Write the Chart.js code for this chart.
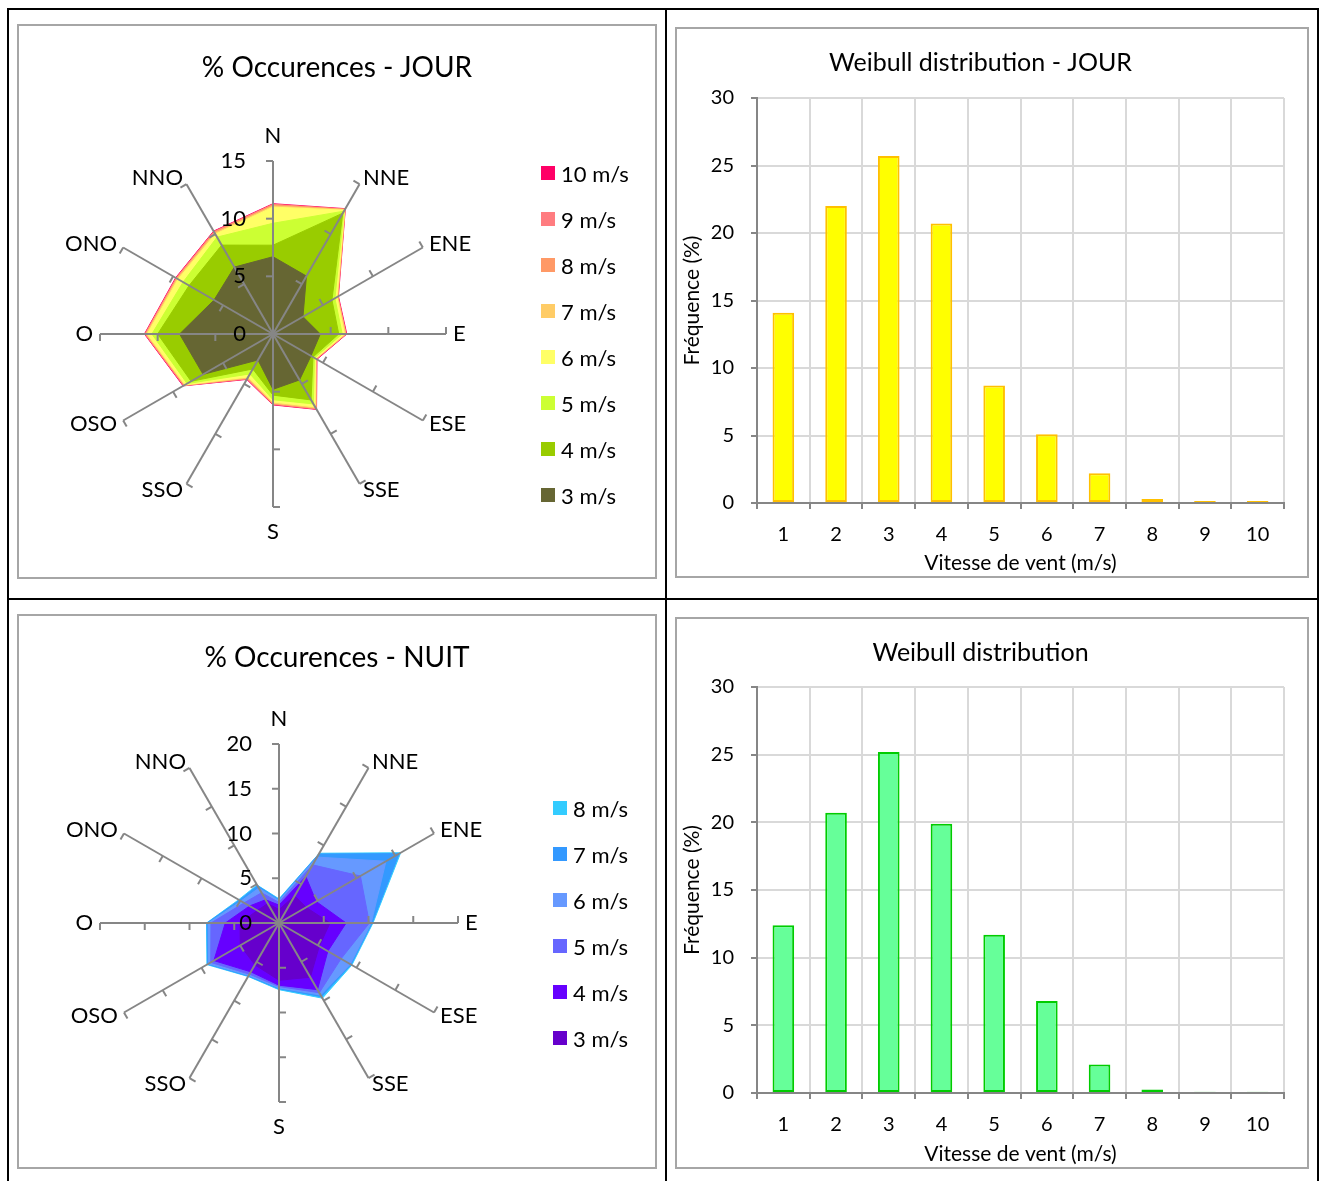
<!DOCTYPE html>
<html lang="fr">
<head>
<meta charset="utf-8">
<title>Occurences et distribution de Weibull</title>
<script src="https://cdn.jsdelivr.net/npm/chart.js@4.4.1/dist/chart.umd.min.js"></script>
<style>
  body { margin: 0; background: #fff; font-family: Lato, sans-serif; }
  .rule { position: absolute; background: #000; }
  .panel { position: absolute; border: 2px solid #a6a6a6; box-sizing: border-box; background: #fff; }
  .panel canvas { position: absolute; left: 0; top: 0; }
  .panel-title { position: absolute; left: 0; right: 0; text-align: center; font-size: 28px; line-height: 32px; color: #000; }
  .legend { position: absolute; margin: 0; padding: 0; list-style: none; font-size: 22px; color: #000; }
  .legend li { display: flex; align-items: center; height: 46px; white-space: nowrap; }
  .legend span { display: inline-block; width: 14px; height: 14px; margin-right: 6px; }
</style>
</head>
<body>
<div class="rule" style="left:7px;top:8px;width:1312px;height:2px"></div>
<div class="rule" style="left:7px;top:8px;width:2px;height:1176px"></div>
<div class="rule" style="left:1317px;top:8px;width:2px;height:1176px"></div>
<div class="rule" style="left:665px;top:8px;width:2px;height:1176px"></div>
<div class="rule" style="left:7px;top:598px;width:1312px;height:2px"></div>

<div class="panel" style="left:17px;top:24px;width:640px;height:555px">
  <canvas id="roseJour" width="636" height="551"></canvas>
  <div class="panel-title" style="top:24px">% Occurences - JOUR</div>
  <ul class="legend" id="legendJour" style="left:522px;top:124px"></ul>
</div>
<div class="panel" style="left:675px;top:27px;width:634px;height:551px">
  <canvas id="weibullJour" width="630" height="547"></canvas>
</div>
<div class="panel" style="left:17px;top:614px;width:640px;height:555px">
  <canvas id="roseNuit" width="636" height="551"></canvas>
  <div class="panel-title" style="top:24px">% Occurences - NUIT</div>
  <ul class="legend" id="legendNuit" style="left:534px;top:169px"></ul>
</div>
<div class="panel" style="left:675px;top:617px;width:634px;height:552px">
  <canvas id="weibullNuit" width="630" height="548"></canvas>
</div>

<script>
// directions, clockwise from north
const directions = ['N', 'NNE', 'ENE', 'E', 'ESE', 'SSE', 'S', 'SSO', 'OSO', 'O', 'ONO', 'NNO'];

// % occurences by direction, day (cumulative per wind speed class)
const jourLabels = ['3 m/s', '4 m/s', '5 m/s', '6 m/s', '7 m/s', '8 m/s', '9 m/s', '10 m/s'];
const jour3 = [6.7, 5.8, 3.0, 4.1, 3.8, 4.6, 4.8, 2.6, 7.0, 8.1, 5.9, 6.7];
const jour4 = [7.7, 12.1, 5.9, 5.7, 4.0, 6.6, 5.3, 3.5, 8.2, 10.0, 8.4, 8.9];
const jour5 = [9.6, 12.3, 6.2, 6.0, 4.15, 7.0, 5.7, 4.0, 8.6, 10.5, 9.0, 9.7];
const jour6 = [11.0, 12.4, 6.4, 6.2, 4.25, 7.3, 5.9, 4.3, 8.8, 10.9, 9.5, 10.0];
const jour7 = [11.1, 12.45, 6.45, 6.3, 4.3, 7.4, 6.0, 4.4, 8.85, 11.0, 9.6, 10.1];
const jour8 = [11.2, 12.5, 6.5, 6.3, 4.3, 7.45, 6.05, 4.45, 8.9, 11.05, 9.65, 10.2];
const jour9 = [11.25, 12.5, 6.5, 6.35, 4.35, 7.5, 6.1, 4.5, 8.95, 11.1, 9.7, 10.25];
const jour10 = [11.3, 12.55, 6.55, 6.4, 4.4, 7.55, 6.15, 4.55, 9.0, 11.15, 9.75, 10.3];

// % occurences by direction, night
const nuitLabels = ['3 m/s', '4 m/s', '5 m/s', '6 m/s', '7 m/s', '8 m/s'];
const nuit3 = [1.5, 3.5, 3.5, 5.7, 5.2, 7.0, 6.4, 5.4, 5.0, 4.35, 2.8, 2.5];
const nuit4 = [2.0, 6.0, 4.8, 7.5, 6.3, 8.6, 6.95, 6.3, 8.4, 6.0, 3.8, 3.0];
const nuit5 = [2.3, 7.5, 10.5, 10.1, 8.0, 9.0, 7.1, 6.6, 8.8, 7.6, 4.5, 3.9];
const nuit6 = [2.5, 8.5, 13.8, 10.3, 9.2, 9.3, 7.25, 6.75, 9.1, 7.9, 4.9, 4.5];
const nuit7 = [2.6, 8.9, 15.5, 10.4, 9.3, 9.5, 7.35, 6.85, 9.2, 8.05, 5.1, 4.8];
const nuit8 = [2.7, 9.0, 15.7, 10.5, 9.4, 9.7, 7.45, 6.9, 9.3, 8.1, 5.2, 4.9];

// Weibull distribution, frequency (%) per wind speed
const speedBins = ['1', '2', '3', '4', '5', '6', '7', '8', '9', '10'];
const weibullJourValues = [14.1, 22.0, 25.7, 20.7, 8.7, 5.1, 2.2, 0.3, 0.15, 0.15];
const weibullNuitValues = [12.4, 20.7, 25.2, 19.9, 11.7, 6.8, 2.1, 0.25, 0.1, 0.1];

const axisGrey = '#868686';
const gridGrey = '#d9d9d9';

Chart.defaults.font.family = 'Lato, sans-serif';
Chart.defaults.color = '#000';

// spokes ticks, value labels along N, direction names
const roseAxes = {
    id: 'roseAxes',
    afterDraw(chart) {
        const s = chart.scales.r;
        const ctx = chart.ctx;
        ctx.save();
        ctx.strokeStyle = axisGrey;
        ctx.lineWidth = 2;
        s.ticks.forEach((t) => {
            if (t.value === 0) return;
            const d = s.getDistanceFromCenterForValue(t.value);
            chart.data.labels.forEach((_, i) => {
                const p = s.getPointPosition(i, d);
                ctx.beginPath();
                ctx.moveTo(p.x, p.y);
                ctx.lineTo(p.x + 7 * Math.sin(p.angle), p.y - 7 * Math.cos(p.angle));
                ctx.stroke();
            });
        });

        ctx.fillStyle = '#000';
        ctx.font = '22px Lato, sans-serif';
        ctx.textBaseline = 'middle';
        ctx.textAlign = 'right';
        s.ticks.forEach((t) => {
            ctx.fillText(t.label, s.xCenter - 27, s.yCenter - s.getDistanceFromCenterForValue(t.value));
        });

        chart.data.labels.forEach((name, i) => {
            const probe = s.getPointPosition(i, s.drawingArea);
            const dx = probe.x - s.xCenter;
            const onVertical = Math.abs(dx) < 1;
            const p = s.getPointPosition(i, s.drawingArea + (onVertical ? 25 : 7));
            ctx.textAlign = onVertical ? 'center' : dx > 0 ? 'left' : 'right';
            ctx.fillText(name, p.x, p.y);
        });
        ctx.restore();
    },
};

const fillLegend = (listId, chart) => {
    const list = document.getElementById(listId);
    [...chart.data.datasets].reverse().forEach((ds) => {
        const li = document.createElement('li');
        const box = document.createElement('span');
        box.style.background = ds.backgroundColor;
        li.appendChild(box);
        li.appendChild(document.createTextNode(ds.label));
        list.appendChild(li);
    });
};

const makeRose = (canvasId, legendId, labels, series, colors, max, padding) => {
    const chart = new Chart(document.getElementById(canvasId), {
        type: 'radar',
        data: {
            labels: directions,
            datasets: series.map((data, i) => ({
                label: labels[i],
                data,
                backgroundColor: colors[i],
                borderColor: colors[i],
                borderWidth: 1,
                fill: 'origin',
                pointRadius: 0,
                tension: 0,
            })),
        },
        options: {
            responsive: false,
            animation: false,
            events: [],
            layout: { padding },
            plugins: {
                legend: { display: false },
                tooltip: { enabled: false },
            },
            scales: {
                r: {
                    min: 0,
                    max,
                    ticks: { display: false, stepSize: 5 },
                    grid: { display: false, z: 1 },
                    angleLines: { color: axisGrey, lineWidth: 2 },
                    pointLabels: { display: false },
                },
            },
        },
        plugins: [roseAxes],
    });
    fillLegend(legendId, chart);
};

const makeWeibull = (canvasId, title, values, fill, border, titleBottom, xHeight) => {
    new Chart(document.getElementById(canvasId), {
        type: 'bar',
        data: {
            labels: speedBins,
            datasets: [
                {
                    data: values,
                    backgroundColor: fill,
                    borderColor: border,
                    borderWidth: 2,
                    borderSkipped: false,
                    barPercentage: 0.41,
                    categoryPercentage: 1,
                },
            ],
        },
        options: {
            responsive: false,
            animation: false,
            events: [],
            layout: { padding: { left: 0, right: 23, top: 0, bottom: 0 } },
            plugins: {
                legend: { display: false },
                tooltip: { enabled: false },
                title: {
                    display: true,
                    text: title,
                    font: { size: 25, weight: 'normal' },
                    padding: { top: 19, bottom: titleBottom },
                },
            },
            scales: {
                x: {
                    grid: { color: gridGrey, lineWidth: 2, tickColor: axisGrey, tickLength: 6 },
                    border: { color: axisGrey, width: 2 },
                    ticks: { font: { size: 20 }, padding: 14 },
                    title: {
                        display: true,
                        text: 'Vitesse de vent (m/s)',
                        font: { size: 21 },
                        padding: { top: 4, bottom: 0 },
                    },
                    afterFit: (scale) => { scale.height = xHeight; },
                },
                y: {
                    min: 0,
                    max: 30,
                    ticks: { stepSize: 5, font: { size: 20 }, padding: 17 },
                    grid: { color: gridGrey, lineWidth: 2, tickColor: axisGrey, tickLength: 6 },
                    border: { color: axisGrey, width: 2 },
                    title: { display: true, text: 'Fréquence (%)', font: { size: 21 }, padding: { top: 3, bottom: 4 } },
                    afterFit: (scale) => { scale.width = 80; },
                },
            },
        },
    });
};

makeRose(
    'roseJour', 'legendJour', jourLabels,
    [jour3, jour4, jour5, jour6, jour7, jour8, jour9, jour10],
    ['#666633', '#99cc00', '#ccff33', '#ffff66', '#ffcc66', '#ff9966', '#ff7c80', '#ff0066'],
    15, { left: 81, right: 209, top: 135, bottom: 70 }
);
makeRose(
    'roseNuit', 'legendNuit', nuitLabels,
    [nuit3, nuit4, nuit5, nuit6, nuit7, nuit8],
    ['#6600cc', '#6600ff', '#6666ff', '#6699ff', '#3399ff', '#33ccff'],
    20, { left: 81, right: 197, top: 128, bottom: 65 }
);
makeWeibull('weibullJour', 'Weibull distribution - JOUR', weibullJourValues, '#ffff00', '#ffc000', 20, 73);
makeWeibull('weibullNuit', 'Weibull distribution', weibullNuitValues, '#66ff99', '#00cc00', 19, 74);
</script>
</body>
</html>
